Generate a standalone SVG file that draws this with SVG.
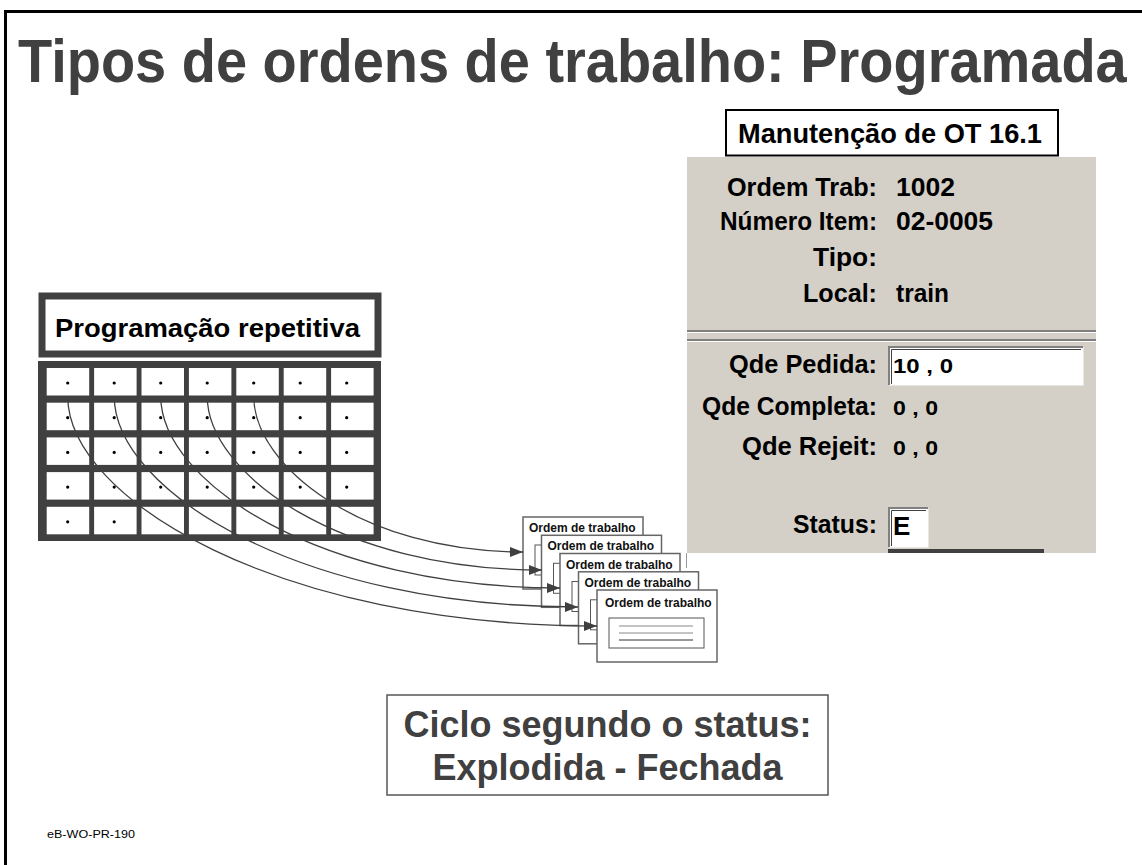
<svg xmlns="http://www.w3.org/2000/svg" width="1142" height="865" viewBox="0 0 1142 865">
<style>
.title{font-family:"Liberation Sans",Arial,sans-serif;font-weight:bold;font-size:61px;fill:#404040}
.lbl{font-family:"Liberation Sans",Arial,sans-serif;font-weight:bold;font-size:26px;fill:#000;text-anchor:end}
.val{font-family:"Liberation Sans",Arial,sans-serif;font-weight:bold;font-size:26px;fill:#000}
.num{font-family:"Liberation Sans",Arial,sans-serif;font-weight:bold;font-size:20px;fill:#000}
.card rect.c{fill:#fff;stroke:#666;stroke-width:1.5}
.card text{font-family:"Liberation Sans",Arial,sans-serif;font-weight:bold;font-size:12px;fill:#111}
.card rect.i{fill:#fff;stroke:#555;stroke-width:1}
.cell{fill:#fff}
.dot{fill:#000}
.conn{fill:none;stroke:#404040;stroke-width:1.3}
.big{font-family:"Liberation Sans",Arial,sans-serif;font-weight:bold;font-size:36px;fill:#404040;text-anchor:middle}
</style>
<defs>
<marker id="arr" markerUnits="userSpaceOnUse" markerWidth="14" markerHeight="12" refX="13" refY="5" orient="auto">
<path d="M0,0 L13,5 L0,10 z" fill="#404040"/>
</marker>
</defs>
<rect width="1142" height="865" fill="#fff"/>
<path d="M5.5,870 V11.5 H1150" fill="none" stroke="#000" stroke-width="3"/>
<text class="title" transform="translate(18,82) scale(0.9174,1)" x="0" y="0">Tipos de ordens de trabalho: Programada</text>

<g id="screen">
<rect x="687" y="157" width="409" height="396" fill="#d4d0c8"/>
<rect x="687" y="330" width="409" height="2" fill="#808080"/>
<rect x="687" y="332" width="409" height="1" fill="#fff"/>
<rect x="687" y="339" width="409" height="2" fill="#808080"/>
<rect x="687" y="341" width="409" height="1" fill="#fff"/>
<text class="lbl" x="877" y="196" textLength="150" lengthAdjust="spacingAndGlyphs">Ordem Trab:</text>
<text class="val" x="896" y="196" textLength="59" lengthAdjust="spacingAndGlyphs">1002</text>
<text class="lbl" x="877" y="230" textLength="157" lengthAdjust="spacingAndGlyphs">Número Item:</text>
<text class="val" x="896" y="230" textLength="97" lengthAdjust="spacingAndGlyphs">02-0005</text>
<text class="lbl" x="877" y="266" textLength="64" lengthAdjust="spacingAndGlyphs">Tipo:</text>
<text class="lbl" x="877" y="302" textLength="74" lengthAdjust="spacingAndGlyphs">Local:</text>
<text class="val" x="896" y="302" textLength="53" lengthAdjust="spacingAndGlyphs">train</text>
<text class="lbl" x="877" y="373" textLength="148" lengthAdjust="spacingAndGlyphs">Qde Pedida:</text>
<rect x="889" y="347" width="194" height="38" fill="#fff"/>
<path d="M889,385 V347 H1083" fill="none" stroke="#808080" stroke-width="2"/>
<path d="M891.5,384 V349.5 H1081" fill="none" stroke="#404040" stroke-width="1"/>
<path d="M889,385.5 H1083.5 V347" fill="none" stroke="#e8e6e0" stroke-width="1"/>
<text class="num" x="893" y="373" textLength="60" lengthAdjust="spacingAndGlyphs">10 , 0</text>
<text class="lbl" x="877" y="415" textLength="175" lengthAdjust="spacingAndGlyphs">Qde Completa:</text>
<text class="num" x="893" y="415" textLength="45" lengthAdjust="spacingAndGlyphs">0 , 0</text>
<text class="lbl" x="877" y="455" textLength="135" lengthAdjust="spacingAndGlyphs">Qde Rejeit:</text>
<text class="num" x="893" y="455" textLength="45" lengthAdjust="spacingAndGlyphs">0 , 0</text>
<text class="lbl" x="877" y="533" textLength="84" lengthAdjust="spacingAndGlyphs">Status:</text>
<rect x="889" y="508" width="39" height="39" fill="#fff"/>
<path d="M889,547 V508 H928" fill="none" stroke="#808080" stroke-width="2"/>
<path d="M891.5,546 V510.5 H926" fill="none" stroke="#404040" stroke-width="1"/>
<path d="M889,547.5 H928.5 V508" fill="none" stroke="#e8e6e0" stroke-width="1"/>
<text class="val" x="893" y="535" font-size="26">E</text>
<rect x="888" y="549" width="156" height="4" fill="#404040"/>
<line x1="686.5" y1="553" x2="686.5" y2="568" stroke="#999" stroke-width="1"/>
</g>

<g id="screen-title">
<rect x="726" y="110" width="332" height="45.5" fill="#fff" stroke="#000" stroke-width="2"/>
<text x="738" y="143" font-family="Liberation Sans, Arial, sans-serif" font-weight="bold" font-size="27" fill="#000" textLength="304" lengthAdjust="spacingAndGlyphs">Manutenção de OT 16.1</text>
</g>

<g id="schedule-label">
<rect x="42" y="296" width="336" height="58" fill="#fff" stroke="#404040" stroke-width="7"/>
<text x="55" y="337" font-family="Liberation Sans, Arial, sans-serif" font-weight="bold" font-size="26" fill="#000" textLength="305" lengthAdjust="spacingAndGlyphs">Programação repetitiva</text>
</g>

<g id="schedule-grid">
<rect x="38" y="361" width="343" height="180" fill="#404040"/>
<g>
<rect class="cell" x="46.7" y="368" width="42.5" height="27.5"/><rect class="cell" x="94.1" y="368" width="42.5" height="27.5"/><rect class="cell" x="141.5" y="368" width="42.5" height="27.5"/><rect class="cell" x="188.9" y="368" width="42.5" height="27.5"/><rect class="cell" x="236.3" y="368" width="42.5" height="27.5"/><rect class="cell" x="283.7" y="368" width="42.5" height="27.5"/><rect class="cell" x="331.1" y="368" width="42.5" height="27.5"/>
<rect class="cell" x="46.7" y="402.7" width="42.5" height="27.5"/><rect class="cell" x="94.1" y="402.7" width="42.5" height="27.5"/><rect class="cell" x="141.5" y="402.7" width="42.5" height="27.5"/><rect class="cell" x="188.9" y="402.7" width="42.5" height="27.5"/><rect class="cell" x="236.3" y="402.7" width="42.5" height="27.5"/><rect class="cell" x="283.7" y="402.7" width="42.5" height="27.5"/><rect class="cell" x="331.1" y="402.7" width="42.5" height="27.5"/>
<rect class="cell" x="46.7" y="437.4" width="42.5" height="27.5"/><rect class="cell" x="94.1" y="437.4" width="42.5" height="27.5"/><rect class="cell" x="141.5" y="437.4" width="42.5" height="27.5"/><rect class="cell" x="188.9" y="437.4" width="42.5" height="27.5"/><rect class="cell" x="236.3" y="437.4" width="42.5" height="27.5"/><rect class="cell" x="283.7" y="437.4" width="42.5" height="27.5"/><rect class="cell" x="331.1" y="437.4" width="42.5" height="27.5"/>
<rect class="cell" x="46.7" y="472.1" width="42.5" height="27.5"/><rect class="cell" x="94.1" y="472.1" width="42.5" height="27.5"/><rect class="cell" x="141.5" y="472.1" width="42.5" height="27.5"/><rect class="cell" x="188.9" y="472.1" width="42.5" height="27.5"/><rect class="cell" x="236.3" y="472.1" width="42.5" height="27.5"/><rect class="cell" x="283.7" y="472.1" width="42.5" height="27.5"/><rect class="cell" x="331.1" y="472.1" width="42.5" height="27.5"/>
<rect class="cell" x="46.7" y="506.8" width="42.5" height="27.5"/><rect class="cell" x="94.1" y="506.8" width="42.5" height="27.5"/><rect class="cell" x="141.5" y="506.8" width="42.5" height="27.5"/><rect class="cell" x="188.9" y="506.8" width="42.5" height="27.5"/><rect class="cell" x="236.3" y="506.8" width="42.5" height="27.5"/><rect class="cell" x="283.7" y="506.8" width="42.5" height="27.5"/><rect class="cell" x="331.1" y="506.8" width="42.5" height="27.5"/>
</g>
<g>
<circle class="dot" cx="67.7" cy="383" r="1.6"/><circle class="dot" cx="114.2" cy="383" r="1.6"/><circle class="dot" cx="160.7" cy="383" r="1.6"/><circle class="dot" cx="207.2" cy="383" r="1.6"/><circle class="dot" cx="253.7" cy="383" r="1.6"/><circle class="dot" cx="300.2" cy="383" r="1.6"/><circle class="dot" cx="346.7" cy="383" r="1.6"/>
<circle class="dot" cx="67.7" cy="417.7" r="1.6"/><circle class="dot" cx="114.2" cy="417.7" r="1.6"/><circle class="dot" cx="160.7" cy="417.7" r="1.6"/><circle class="dot" cx="207.2" cy="417.7" r="1.6"/><circle class="dot" cx="253.7" cy="417.7" r="1.6"/><circle class="dot" cx="300.2" cy="417.7" r="1.6"/><circle class="dot" cx="346.7" cy="417.7" r="1.6"/>
<circle class="dot" cx="67.7" cy="452.4" r="1.6"/><circle class="dot" cx="114.2" cy="452.4" r="1.6"/><circle class="dot" cx="160.7" cy="452.4" r="1.6"/><circle class="dot" cx="207.2" cy="452.4" r="1.6"/><circle class="dot" cx="253.7" cy="452.4" r="1.6"/><circle class="dot" cx="300.2" cy="452.4" r="1.6"/><circle class="dot" cx="346.7" cy="452.4" r="1.6"/>
<circle class="dot" cx="67.7" cy="487.1" r="1.6"/><circle class="dot" cx="114.2" cy="487.1" r="1.6"/><circle class="dot" cx="160.7" cy="487.1" r="1.6"/><circle class="dot" cx="207.2" cy="487.1" r="1.6"/><circle class="dot" cx="253.7" cy="487.1" r="1.6"/><circle class="dot" cx="300.2" cy="487.1" r="1.6"/><circle class="dot" cx="346.7" cy="487.1" r="1.6"/>
<circle class="dot" cx="67.7" cy="521.8" r="1.6"/><circle class="dot" cx="114.2" cy="521.8" r="1.6"/>
</g>
</g>

<g id="card1" class="card">
<rect class="c" x="523" y="517" width="120" height="72"/>
<text x="529" y="532">Ordem de trabalho</text>
<rect class="i" x="535" y="545" width="95" height="30"/>
<line x1="545" y1="553" x2="619" y2="553" stroke="#888"/><line x1="545" y1="560" x2="619" y2="560" stroke="#888"/><line x1="545" y1="567" x2="619" y2="567" stroke="#333"/>
</g>
<g id="card2" class="card">
<rect class="c" x="541.5" y="535.3" width="120" height="72"/>
<text x="547.5" y="550.3">Ordem de trabalho</text>
<rect class="i" x="553.5" y="563.3" width="95" height="30"/>
<line x1="563.5" y1="571.3" x2="637.5" y2="571.3" stroke="#888"/><line x1="563.5" y1="578.3" x2="637.5" y2="578.3" stroke="#888"/><line x1="563.5" y1="585.3" x2="637.5" y2="585.3" stroke="#333"/>
</g>
<g id="card3" class="card">
<rect class="c" x="560" y="553.5" width="120" height="72"/>
<text x="566" y="568.5">Ordem de trabalho</text>
<rect class="i" x="572" y="581.5" width="95" height="30"/>
<line x1="582" y1="589.5" x2="656" y2="589.5" stroke="#888"/><line x1="582" y1="596.5" x2="656" y2="596.5" stroke="#888"/><line x1="582" y1="603.5" x2="656" y2="603.5" stroke="#333"/>
</g>
<g id="card4" class="card">
<rect class="c" x="578.5" y="571.8" width="120" height="72"/>
<text x="584.5" y="586.8">Ordem de trabalho</text>
<rect class="i" x="590.5" y="599.8" width="95" height="30"/>
<line x1="600.5" y1="607.8" x2="674.5" y2="607.8" stroke="#888"/><line x1="600.5" y1="614.8" x2="674.5" y2="614.8" stroke="#888"/><line x1="600.5" y1="621.8" x2="674.5" y2="621.8" stroke="#333"/>
</g>
<g id="card5" class="card">
<rect class="c" x="597" y="590" width="120" height="72"/>
<text x="605" y="607">Ordem de trabalho</text>
<rect class="i" x="609" y="618" width="95" height="30"/>
<line x1="619" y1="626" x2="693" y2="626" stroke="#888"/><line x1="619" y1="633" x2="693" y2="633" stroke="#888"/><line x1="619" y1="640" x2="693" y2="640" stroke="#333"/>
</g>

<g id="connectors">
<path class="conn" marker-end="url(#arr)" d="M67.7,396 C67.7,499.5 279.4,626 597,626"/>
<path class="conn" marker-end="url(#arr)" d="M114.2,396 C114.2,491 299.6,607 578,607"/>
<path class="conn" marker-end="url(#arr)" d="M160.7,396 C160.7,482.4 320.4,588 560,588"/>
<path class="conn" marker-end="url(#arr)" d="M207.2,396 C207.2,474.3 341,570 542,570"/>
<path class="conn" marker-end="url(#arr)" d="M253.7,396 C253.7,466.2 361.6,552 523,552"/>
</g>

<g id="status-cycle">
<rect x="387" y="695" width="441" height="100" fill="#fff" stroke="#555" stroke-width="1.5"/>
<text class="big" x="607.5" y="737">Ciclo segundo o status:</text>
<text class="big" x="607.5" y="780">Explodida - Fechada</text>
</g>

<text x="47" y="838" font-family="Liberation Sans, Arial, sans-serif" font-size="11" fill="#000" textLength="88" lengthAdjust="spacingAndGlyphs">eB-WO-PR-190</text>
</svg>
